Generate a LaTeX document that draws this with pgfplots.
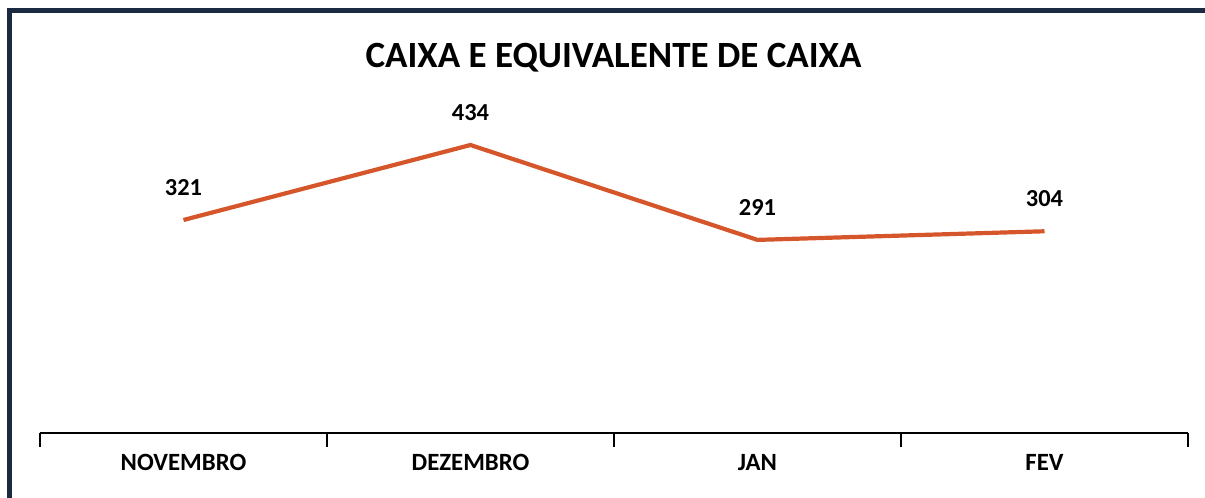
\documentclass[border=0pt]{standalone}
\usepackage{pgfplots}
\pgfplotsset{compat=1.18}
\usepackage{fontspec}
\setmainfont{Carlito}
\definecolor{lineorange}{HTML}{D5562A}
\definecolor{navy}{HTML}{1B2A41}
\begin{document}
\begin{tikzpicture}
\path[use as bounding box] (0,0) rectangle (602.5pt,249pt);
\begin{scope}
\clip (0,0) rectangle (602.5pt,249pt);
\draw[navy, line width=2.6pt] (4.75pt,-5pt) -- (4.75pt,243.75pt) -- (610pt,243.75pt);
\end{scope}
\node[anchor=base, font=\fontsize{18.5}{20}\selectfont\bfseries, inner sep=0pt] at (306.75pt,215pt) {CAIXA E EQUIVALENTE DE CAIXA};
\begin{axis}[
  at={(20pt,32.5pt)}, anchor=south west,
  width=574pt, height=165.9pt, scale only axis,
  xmin=-0.5, xmax=3.5, ymin=0, ymax=500,
  axis x line=bottom, axis y line=none,
  x axis line style={-, black, line width=1pt},
  xtick={0,1,2,3},
  xticklabels={NOVEMBRO,DEZEMBRO,JAN,FEV},
  major tick length=0pt,
  extra x ticks={-0.5,0.5,1.5,2.5,3.5},
  extra x tick labels={},
  extra x tick style={major tick length=7pt, tick pos=left, tick align=outside, tick style={black, line width=1pt}},
  xticklabel style={font=\fontsize{12.4}{14}\selectfont\bfseries, anchor=base, yshift=-19pt, inner sep=0pt},
  /pgf/number format/assume math mode=true,
  clip=false,
  nodes near coords,
  every node near coord/.append style={font=\fontsize{12.2}{14}\selectfont\bfseries, anchor=south, inner sep=0pt, yshift=11.2pt, black},
]
\addplot[lineorange, line width=2.1pt, mark=none] coordinates {(0,321) (1,434) (2,291) (3,304)};
\end{axis}
\end{tikzpicture}
\end{document}
